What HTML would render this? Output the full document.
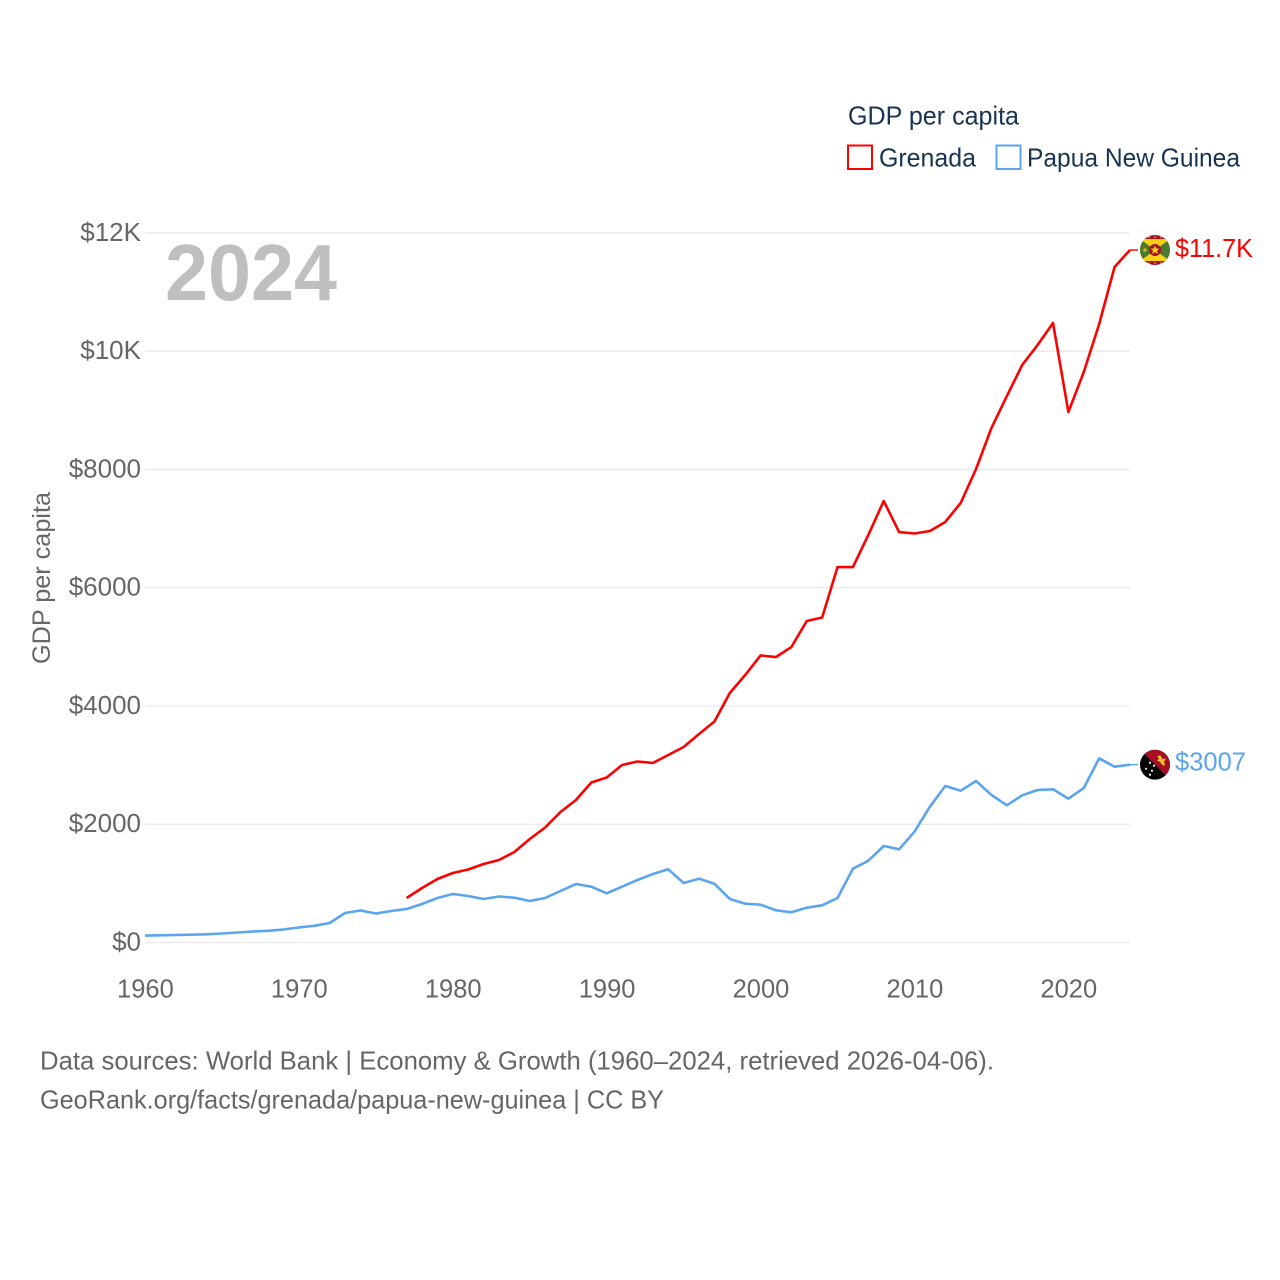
<!DOCTYPE html>
<html lang="en">
<head>
<meta charset="utf-8">
<title>GDP per capita: Grenada and Papua New Guinea</title>
<style>
html,body{margin:0;padding:0;background:#fff;width:1280px;height:1280px;overflow:hidden}
svg{display:block}
text{font-family:"Liberation Sans",sans-serif}
</style>
</head>
<body>
<svg id="chart" width="1280" height="1280" viewBox="0 0 1280 1280" xmlns="http://www.w3.org/2000/svg">
  <defs>
    <clipPath id="flag-clip"><circle cx="0" cy="0" r="15"/></clipPath>
  </defs>
  <g id="grid"></g>
  <g id="y-ticks"></g>
  <g id="x-ticks"></g>

  <text x="165" y="300" font-size="80" font-weight="700" fill="#bfbfbf" textLength="172" lengthAdjust="spacingAndGlyphs">2024</text>
  <text transform="translate(50,664) rotate(-90)" font-size="25" fill="#666666" textLength="172" lengthAdjust="spacingAndGlyphs">GDP per capita</text>

  <g id="series"></g>

  <g id="flag-grenada">
    <g clip-path="url(#flag-clip)">
      <rect x="-15" y="-15" width="30" height="30" fill="#a8102a"/>
      <rect x="-15" y="-11" width="30" height="22" fill="#fcd116"/>
      <polygon points="-15,-11 0,0 -15,11" fill="#4b7a2c"/>
      <polygon points="15,-11 0,0 15,11" fill="#4b7a2c"/>
      <circle cx="0" cy="0" r="6" fill="#a8102a"/>
      <polygon points="0,-4.5 1.3,-1.4 4.5,-1.4 2,0.7 2.9,4 0,2.1 -2.9,4 -2,0.7 -4.5,-1.4 -1.3,-1.4" fill="#fcd116"/>
      <circle cx="-10" cy="0" r="1.8" fill="#d9b030"/>
      <circle cx="-6" cy="-13" r="0.8" fill="#fcd116"/>
      <circle cx="0" cy="-13" r="0.8" fill="#fcd116"/>
      <circle cx="6" cy="-13" r="0.8" fill="#fcd116"/>
      <circle cx="-6" cy="13" r="0.8" fill="#fcd116"/>
      <circle cx="0" cy="13" r="0.8" fill="#fcd116"/>
      <circle cx="6" cy="13" r="0.8" fill="#fcd116"/>
    </g>
  </g>
  <g id="flag-png">
    <g clip-path="url(#flag-clip)">
      <rect x="-15" y="-15" width="30" height="30" fill="#000000"/>
      <polygon points="-15,-15 15,-15 15,15" fill="#a50f22"/>
      <path d="M2,-9 L6,-9 L7,-6 L11,-6 L9,-3 L10,1 L7,0 L5,-3 L2,-4 L4,-6 Z" fill="#f2c230"/>
      <circle cx="-5" cy="-2" r="1.1" fill="#ffffff"/>
      <circle cx="-1" cy="1" r="1.1" fill="#ffffff"/>
      <circle cx="-9" cy="4" r="1" fill="#ffffff"/>
      <circle cx="-3" cy="6" r="1.1" fill="#ffffff"/>
      <circle cx="-5" cy="10" r="1.1" fill="#ffffff"/>
    </g>
  </g>
  <text id="end-grenada" x="1175" font-size="26" fill="#ff0000" textLength="78" lengthAdjust="spacingAndGlyphs">$11.7K</text>
  <text id="end-png" x="1175" font-size="26" fill="#5ba5ee" textLength="71" lengthAdjust="spacingAndGlyphs">$3007</text>

  <g>
    <text x="848" y="124.5" font-size="26" fill="#1a3353" textLength="171" lengthAdjust="spacingAndGlyphs">GDP per capita</text>
    <g>
      <rect x="848" y="145.5" width="24" height="23.5" fill="none" stroke="#ff0000" stroke-width="2"/>
      <text x="879" y="166.5" font-size="26" fill="#1a3353" textLength="97" lengthAdjust="spacingAndGlyphs">Grenada</text>
    </g>
    <g>
      <rect x="996.5" y="145.5" width="24" height="23.5" fill="none" stroke="#5ba5ee" stroke-width="2"/>
      <text x="1027" y="166.5" font-size="26" fill="#1a3353" textLength="213" lengthAdjust="spacingAndGlyphs">Papua New Guinea</text>
    </g>
  </g>

  <text x="40" y="1069.5" font-size="26" fill="#666666" textLength="954" lengthAdjust="spacingAndGlyphs">Data sources: World Bank | Economy &amp; Growth (1960–2024, retrieved 2026-04-06).</text>
  <text x="40" y="1108.5" font-size="26" fill="#666666" textLength="624" lengthAdjust="spacingAndGlyphs">GeoRank.org/facts/grenada/papua-new-guinea | CC BY</text>
</svg>
<script>
const yTickValues = [0, 2000, 4000, 6000, 8000, 10000, 12000];
const yTickLabels = ["$0", "$2000", "$4000", "$6000", "$8000", "$10K", "$12K"];
const xTickYears = [1960, 1970, 1980, 1990, 2000, 2010, 2020];
const pngStartYear = 1960;
const grenadaStartYear = 1977;
const pngValues = [
  118,122,127,132,139,152,169,186,198,220,
  254,282,330,499,541,490,533,567,651,753,
  820,786,736,778,758,702,753,871,989,944,
  832,944,1057,1158,1238,1006,1079,994,736,656,
  639,545,511,589,629,753,1248,1383,1632,1576,
  1874,2297,2647,2567,2731,2495,2320,2489,2579,2591,
  2432,2613,3115,2973,3007
];
const grenadaValues = [
  753,922,1074,
  1175,1235,1328,1395,1530,1750,1945,2207,2410,2706,
  2790,3002,3061,3036,3171,3306,3526,3738,4220,4524,
  4854,4828,4997,5437,5496,6350,6350,6892,7467,6942,
  6917,6959,7112,7433,8008,8701,9242,9767,10105,10477,
  8971,9648,10460,11424,11711
];

const NS = 'http://www.w3.org/2000/svg';
function xScale(year) { return 145 + (year - 1960) * 15.39; }
function yScale(value) { return 942.5 - value * 0.05913; }

const gridGroup = document.getElementById('grid');
const yTickGroup = document.getElementById('y-ticks');
const xTickGroup = document.getElementById('x-ticks');
const seriesGroup = document.getElementById('series');

yTickValues.forEach(function (value, i) {
  const line = document.createElementNS(NS, 'line');
  
  
  line.setAttribute('x1', 145);
  line.setAttribute('x2', 1130);
  line.setAttribute('y1', yScale(value));
  line.setAttribute('y2', yScale(value));
  line.setAttribute('stroke', '#e9e9e9');
  line.setAttribute('stroke-width', '1.3');
  gridGroup.appendChild(line);

  const label = document.createElementNS(NS, 'text');
  
  
  label.setAttribute('x', 141);
  label.setAttribute('y', yScale(value) + 8);
  label.setAttribute('text-anchor', 'end');
  label.setAttribute('font-size', '26');
  label.setAttribute('fill', '#666666');
  label.textContent = yTickLabels[i];
  yTickGroup.appendChild(label);
});

xTickYears.forEach(function (year) {
  const label = document.createElementNS(NS, 'text');
  
  
  label.setAttribute('x', xScale(year) + 0.4);
  label.setAttribute('y', 997.5);
  label.setAttribute('text-anchor', 'middle');
  label.setAttribute('font-size', '25.5');
  label.setAttribute('fill', '#666666');
  label.textContent = String(year);
  xTickGroup.appendChild(label);
});

function linePoints(values, startYear) {
  return values.map(function (v, i) {
    return xScale(startYear + i).toFixed(2) + ',' + yScale(v).toFixed(2);
  }).join(' ');
}

const pngLine = document.createElementNS(NS, 'polyline');


pngLine.setAttribute('points', linePoints(pngValues, pngStartYear));
pngLine.setAttribute('fill', 'none');
pngLine.setAttribute('stroke', '#5ba5ee');
pngLine.setAttribute('stroke-width', '2.6');
pngLine.setAttribute('stroke-linejoin', 'round');
seriesGroup.appendChild(pngLine);

const grenadaLine = document.createElementNS(NS, 'polyline');


grenadaLine.setAttribute('points', linePoints(grenadaValues, grenadaStartYear));
grenadaLine.setAttribute('fill', 'none');
grenadaLine.setAttribute('stroke', '#ff0000');
grenadaLine.setAttribute('stroke-width', '2.6');
grenadaLine.setAttribute('stroke-linejoin', 'round');
seriesGroup.appendChild(grenadaLine);

const grenadaEndY = yScale(grenadaValues[grenadaValues.length - 1]);
const pngEndY = yScale(pngValues[pngValues.length - 1]);

const pngConnector = document.createElementNS(NS, 'line');


pngConnector.setAttribute('x1', xScale(2024));
pngConnector.setAttribute('x2', 1138);
pngConnector.setAttribute('y1', pngEndY);
pngConnector.setAttribute('y2', pngEndY);
pngConnector.setAttribute('stroke', '#5ba5ee');
pngConnector.setAttribute('stroke-width', '1.4');
seriesGroup.appendChild(pngConnector);

const grenadaConnector = document.createElementNS(NS, 'line');


grenadaConnector.setAttribute('x1', xScale(2024));
grenadaConnector.setAttribute('x2', 1138);
grenadaConnector.setAttribute('y1', grenadaEndY);
grenadaConnector.setAttribute('y2', grenadaEndY);
grenadaConnector.setAttribute('stroke', '#ff0000');
grenadaConnector.setAttribute('stroke-width', '1.4');
seriesGroup.appendChild(grenadaConnector);

document.getElementById('flag-grenada').setAttribute('transform', 'translate(1155,' + grenadaEndY + ')');
document.getElementById('flag-png').setAttribute('transform', 'translate(1155,' + pngEndY + ')');
document.getElementById('end-grenada').setAttribute('y', grenadaEndY + 7);
document.getElementById('end-png').setAttribute('y', pngEndY + 6);
</script>
</body>
</html>
